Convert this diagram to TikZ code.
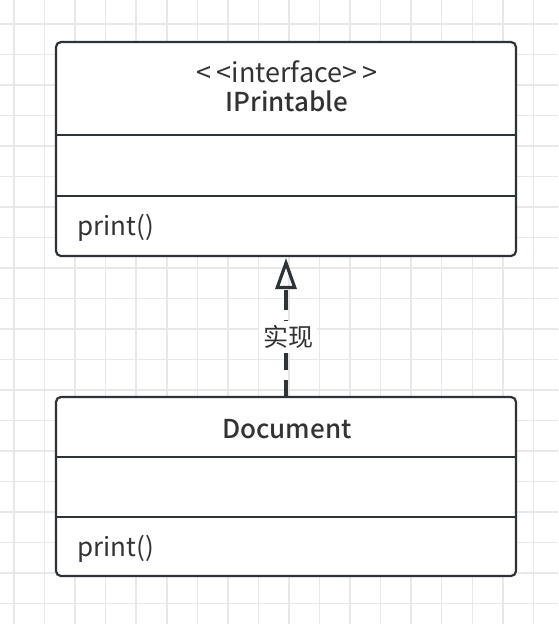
\documentclass[tikz,border=0pt]{standalone}
\usepackage{fontspec}
\setmainfont{Noto Sans CJK SC}[Ligatures=TeXOff]
\newfontfamily\semib{Noto Sans CJK SC Medium}[Ligatures=TeXOff]
\usetikzlibrary{arrows.meta}
\definecolor{gridc}{HTML}{E8E8E8}
\definecolor{linec}{HTML}{2E3338}
\definecolor{textc}{HTML}{333333}
\tikzset{
  umlbox/.style={draw=linec, line width=2.2pt, rounded corners=5pt, fill=white},
  divider/.style={draw=linec, line width=2.2pt},
  txt/.style={text=textc, font=\fontsize{26}{30}\selectfont, inner sep=0pt},
  ttl/.style={txt, font=\fontsize{26}{30}\selectfont\semib},
  realize/.style={draw=linec, line width=3.4pt, dash pattern=on 20pt off 10pt, dash phase=4pt, -{Triangle[open, length=31pt, width=21pt, line width=3.2pt]}},
  lbl/.style={txt, fill=white, inner sep=4pt, font=\fontsize{25}{30}\selectfont}
}
\begin{document}
\begin{tikzpicture}[x=1pt,y=-1pt]
\useasboundingbox (0,0) rectangle (558,624);
\fill[white] (0,0) rectangle (558,624);
\foreach \i in {0,...,18} {\draw[gridc, line width=1.5pt] ({14+\i*30.55},0) -- ({14+\i*30.55},624);}
\foreach \j in {0,...,20} {\draw[gridc, line width=1.5pt] (0,{24+\j*30.5}) -- (558,{24+\j*30.5});}
% IPrintable
\draw[umlbox] (56,42) rectangle (516,256);
\coordinate (ia1) at (56,135); \coordinate (ib1) at (516,135);
\coordinate (ia2) at (56,196); \coordinate (ib2) at (516,196);
\draw[divider] (ia1) -- (ib1);
\draw[divider] (ia2) -- (ib2);
\node[txt, anchor=base, font=\fontsize{27}{30}\selectfont] (ist) at (287,82) {<\kern5pt<interface>\kern5pt>};
\node[ttl, anchor=base] (ipn) at (287,111) {IPrintable};
\node[txt, anchor=base west] (ipm) at (77,235) {print()};
\coordinate (itop) at (286,258);
% Document
\draw[umlbox] (56,397) rectangle (516,576);
\coordinate (da1) at (56,457); \coordinate (db1) at (516,457);
\coordinate (da2) at (56,517); \coordinate (db2) at (516,517);
\draw[divider] (da1) -- (db1);
\draw[divider] (da2) -- (db2);
\node[ttl, anchor=base] (dn) at (287,438) {Document};
\node[txt, anchor=base west] (dm) at (77,556) {print()};
\coordinate (dtop) at (286,396);
% realization
\draw[realize] (dtop) -- (itop);
\node[lbl] (rl) at (288,337) {实现};
\end{tikzpicture}
\end{document}
